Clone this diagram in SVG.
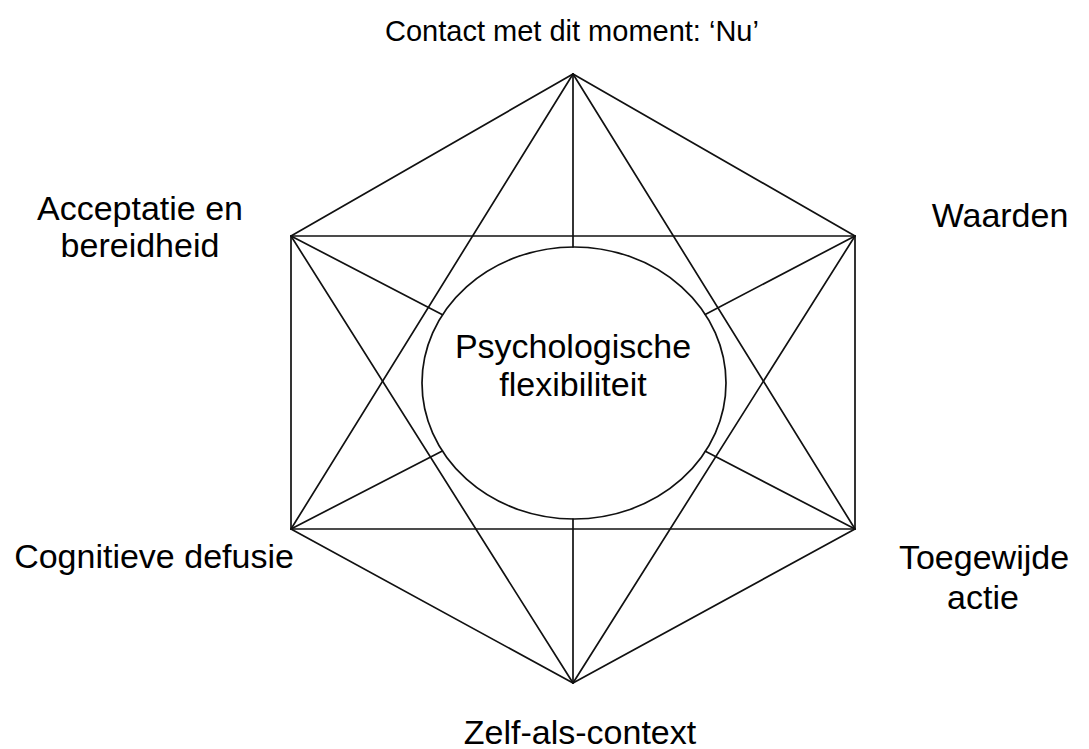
<svg xmlns="http://www.w3.org/2000/svg" width="1089" height="749" viewBox="0 0 1089 749">
<style>
.ln{stroke:#111;stroke-width:1.7;fill:none;stroke-linecap:round;stroke-linejoin:round}
.lbl{font-family:"Liberation Sans",Arial,sans-serif;font-size:34px;fill:#000}
</style>
<rect width="1089" height="749" fill="#fff"/>
<g id="connectors">
<path class="ln" d="M573,74 L855,236 L855,529 L573,683 L291,529 L291,236 Z"/>
<line class="ln" x1="291" y1="236" x2="855" y2="236"/>
<line class="ln" x1="291" y1="529" x2="855" y2="529"/>
<line class="ln" x1="573" y1="74" x2="291" y2="529"/>
<line class="ln" x1="573" y1="74" x2="855" y2="529"/>
<line class="ln" x1="573" y1="683" x2="291" y2="236"/>
<line class="ln" x1="573" y1="683" x2="855" y2="236"/>
<line class="ln" x1="573" y1="74" x2="573" y2="247"/>
<line class="ln" x1="573" y1="683" x2="573" y2="519"/>
<line class="ln" x1="291" y1="236" x2="442.5" y2="314.7"/>
<line class="ln" x1="855" y1="236" x2="705.2" y2="314.4"/>
<line class="ln" x1="291" y1="529" x2="442.3" y2="450.9"/>
<line class="ln" x1="855" y1="529" x2="705.4" y2="451.3"/>
</g>
<g id="center">
<ellipse class="ln" cx="574" cy="383" rx="152" ry="136"/>
<text class="lbl" x="573" y="358" text-anchor="middle">Psychologische</text>
<text class="lbl" x="573" y="396" text-anchor="middle">flexibiliteit</text>
</g>
<g id="node-top"><text class="lbl" x="572" y="41" text-anchor="middle" style="font-size:29px">Contact met dit moment: ‘Nu’</text></g>
<g id="node-ul"><text class="lbl" x="140" y="220" text-anchor="middle">Acceptatie en</text><text class="lbl" x="140" y="257" text-anchor="middle">bereidheid</text></g>
<g id="node-ur"><text class="lbl" x="1000" y="227" text-anchor="middle">Waarden</text></g>
<g id="node-ll"><text class="lbl" x="154" y="568" text-anchor="middle">Cognitieve defusie</text></g>
<g id="node-lr"><text class="lbl" x="984" y="569" text-anchor="middle">Toegewijde</text><text class="lbl" x="983" y="609" text-anchor="middle">actie</text></g>
<g id="node-bottom"><text class="lbl" x="580" y="744" text-anchor="middle">Zelf-als-context</text></g>
</svg>
